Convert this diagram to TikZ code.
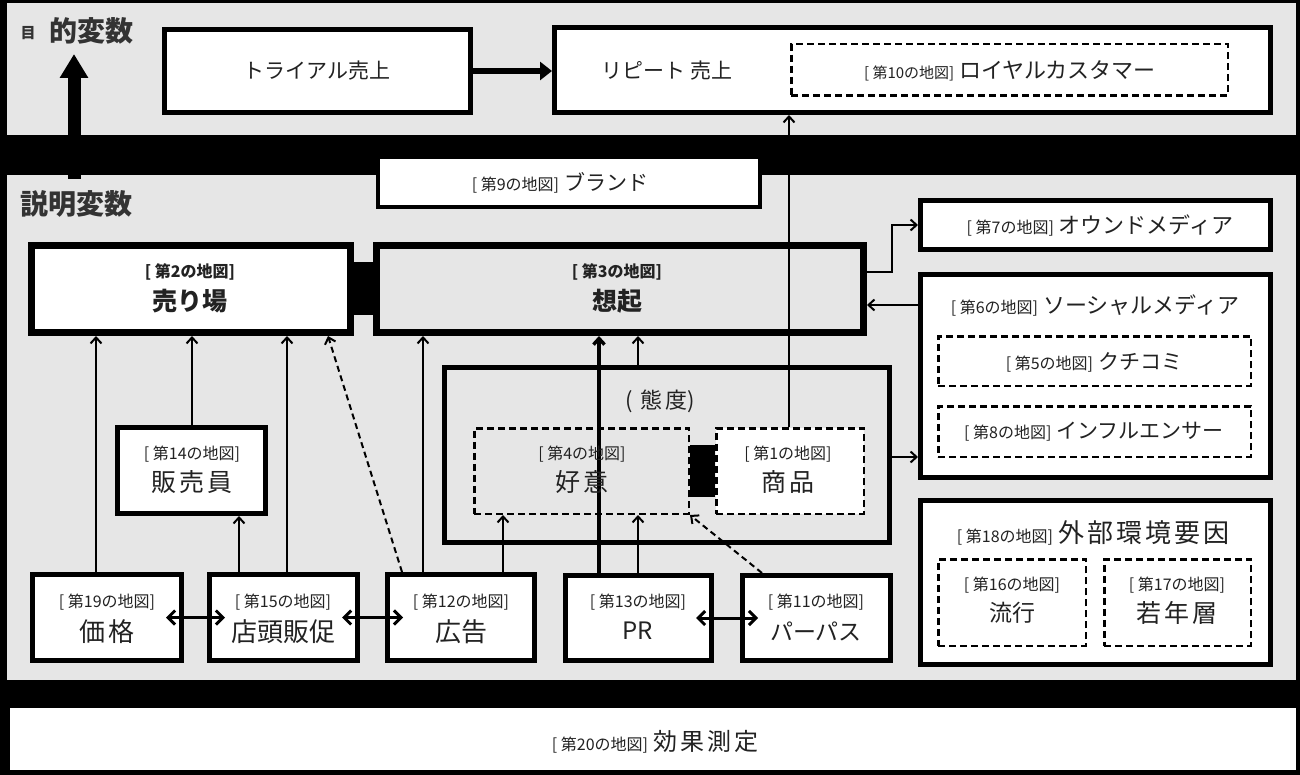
\documentclass[tikz,border=0pt]{standalone}
\usepackage{fontspec}
\setmainfont{Noto Sans CJK JP}
\usetikzlibrary{arrows.meta,calc}
\definecolor{panel}{HTML}{E6E6E6}
\definecolor{ink}{HTML}{222222}
\definecolor{ttlink}{HTML}{333333}
\newcommand\fs[1]{\fontsize{#1}{#1}\selectfont}
\newcommand\gap{\hspace{3pt}}
\newcommand\mybox[7][]{%
  \pgfmathsetmacro\bxw{#5-#3-#7}%
  \pgfmathsetmacro\bxh{#6-#4-#7}%
  \pgfmathsetmacro\bxx{(#3+#5)/2}%
  \pgfmathsetmacro\bxy{(#4+#6)/2}%
  \pgfmathsetmacro\bxo{#7/2}%
  \node[#1, line width=#7pt, minimum width=\bxw pt, minimum height=\bxh pt,
        inner sep=0pt, outer sep=\bxo pt] (#2) at (\bxx,\bxy) {};}
\begin{document}
\begin{tikzpicture}[x=1pt,y=-1pt,
  bx/.style={draw=black, fill=white},
  gbx/.style={draw=black, fill=panel},
  dbx/.style={draw=black, fill=white, dash pattern=on 7pt off 4pt},
  dgbx/.style={draw=black, fill=panel, dash pattern=on 7pt off 4pt},
  txt/.style={inner sep=0pt, text=ink, font=\fs{22}},
  lbl/.style={inner sep=0pt, text=ink, font=\fs{16}},
  main/.style={inner sep=0pt, text=ink, font=\fs{25}},
  ttl/.style={inner sep=0pt, text=ttlink, font=\bfseries\fs{28}},
  arr/.style={line width=2pt, -{Straight Barb[length=6pt,width=11pt]}},
  darr/.style={arr, dash pattern=on 6pt off 4pt},
  dbl/.style={line width=3pt, {Straight Barb[length=7pt,width=14pt]}-{Straight Barb[length=7pt,width=14pt]},
              shorten <=-18pt, shorten >=-18pt},
]
\useasboundingbox (0,0) rectangle (1300,775);
% panels
\fill[black] (0,0) rectangle (1300,775);
\fill[panel] (7,3) rectangle (1296,135);
\fill[panel] (7,175) rectangle (1296,680);
\mybox[fill=white]{kouka}{10}{708}{1296}{770}{0}

% titles
\node[ttl, font=\bfseries\fs{15}] (tMoku) at (28,33) {目};
\node[ttl] (tTeki) at (91,31) {的変数};
\node[ttl] (tSetsu) at (76,204) {説明変数};

% big up arrow
\coordinate (upS) at (74,179);
\coordinate (upE) at (74,54);
\draw[line width=13pt, -{Triangle[length=24pt,width=27pt]}] (upS) -- (upE);

% top boxes
\mybox[bx]{trial}{162}{27}{473}{115}{5}
\mybox[bx]{repeat}{552}{25}{1273}{115}{5}
\mybox[dbx]{loyal}{790}{43}{1229}{97}{2.5}
\mybox[bx]{brand}{376}{155}{762}{209}{4}

% middle boxes
\mybox[bx]{uriba}{28}{242}{354}{336}{7}
\mybox[gbx]{souki}{373}{242}{867}{336}{7}
\mybox[gbx]{taido}{442}{365}{892}{545}{5}
\mybox[dgbx]{koui}{473}{427}{690}{515}{2.5}
\mybox[dbx]{shohin}{715}{427}{865}{515}{2.5}
\mybox[bx]{hanbai}{115}{425}{268}{516}{5}

% right column
\mybox[bx]{owned}{918}{198}{1273}{252}{5}
\mybox[bx]{social}{918}{272}{1273}{480}{5}
\mybox[dbx]{kuchi}{937}{335}{1252}{387}{2.5}
\mybox[dbx]{infl}{937}{405}{1252}{458}{2.5}
\mybox[bx]{gaibu}{918}{498}{1273}{667}{5}
\mybox[dbx]{ryuko}{937}{558}{1087}{647}{2.5}
\mybox[dbx]{jakunen}{1103}{558}{1252}{647}{2.5}

% bottom row
\mybox[bx]{kakaku}{30}{572}{184}{663}{5}
\mybox[bx]{tento}{207}{572}{360}{663}{5}
\mybox[bx]{koukoku}{385}{572}{537}{663}{5}
\mybox[bx]{pr}{563}{573}{714}{663}{5}
\mybox[bx]{purpose}{740}{573}{893}{663}{5}

% black junction blocks
\draw[line width=53pt] (uriba) -- (souki);
\draw[line width=52pt] (koui) -- (shohin);

% helper x / y positions
\foreach \xx in {96,192,239,287,328,402,423,503,599,638,762,789}
  \coordinate (x\xx) at (\xx,0);
\foreach \yy in {272,305,457}
  \coordinate (y\yy) at (0,\yy);

% connectors
\draw[line width=6pt, -{Triangle[length=12pt,width=18pt]}] (trial.east) -- (trial.east -| repeat.west);
\draw[arr] (kakaku.north -| x96) -- (uriba.south -| x96);
\draw[arr] (hanbai.north -| x192) -- (uriba.south -| x192);
\draw[arr] (tento.north -| x239) -- (hanbai.south -| x239);
\draw[arr] (tento.north -| x287) -- (uriba.south -| x287);
\draw[darr] (koukoku.north -| x402) -- (uriba.south -| x328);
\draw[arr] (koukoku.north -| x423) -- (souki.south -| x423);
\draw[arr] (koukoku.north -| x503) -- (koui.south -| x503);
\draw[arr, line width=3.5pt] (pr.north -| x599) -- (souki.south -| x599);
\draw[arr] (pr.north -| x638) -- (koui.south -| x638);
\draw[arr] (taido.north -| x638) -- (souki.south -| x638);
\draw[darr] (purpose.north -| x762) -- (koui.south east);
\draw[arr] (shohin.north -| x789) -- (repeat.south -| x789);
\draw[arr] (souki.east |- y272) -- ++(25,0) |- (owned.west);
\draw[arr] (social.west |- y305) -- (souki.east |- y305);
\draw[arr] (taido.east |- y457) -- (social.west |- y457);
\draw[dbl] (kakaku) -- (tento);
\draw[dbl] (tento) -- (koukoku);
\draw[dbl] (pr) -- (purpose);

% texts
\node[txt, font=\fs{21}] (tTrial) at (317,71) {トライアル売上};
\node[txt, font=\fs{21}] (tRepeat) at (667,71) {リピート\hspace{5pt}売上};
\node[txt] (tLoyal) at (1010,71) {{\fs{15}[ 第10の地図]}\hspace{5pt}ロイヤルカスタマー};
\node[txt, font=\fs{21}] (tBrand) at (560,183) {{\fs{16}[ 第9の地図]}\hspace{5pt}ブランド};

\node[lbl, font=\bfseries\fs{16}] (tUribaL) at (190,272) {[ 第2の地図]};
\node[main, font=\bfseries\fs{25}] (tUriba) at (190,301) {売り場};
\node[lbl, font=\bfseries\fs{16}] (tSoukiL) at (617,272) {[ 第3の地図]};
\node[main, font=\bfseries\fs{25}] (tSouki) at (617,301) {想起};
\node[txt] (tTaido) at (660,401) {(\hspace{8pt}態\gap 度)};
\node[lbl] (tKouiL) at (582,454) {[ 第4の地図]};
\node[main] (tKoui) at (582,482) {好\gap 意};
\node[lbl] (tShohinL) at (788,454) {[ 第1の地図]};
\node[main] (tShohin) at (788,482) {商\gap 品};
\node[lbl] (tHanbaiL) at (192,454) {[ 第14の地図]};
\node[main] (tHanbai) at (192,482) {販\gap 売\gap 員};

\node[txt] (tOwned) at (1100,225) {{\fs{16}[ 第7の地図]}\hspace{5pt}オウンドメディア};
\node[txt] (tSocial) at (1095,305) {{\fs{16}[ 第6の地図]}\hspace{5pt}ソーシャルメディア};
\node[txt, font=\fs{21}] (tKuchi) at (1094,362) {{\fs{16}[ 第5の地図]}\hspace{5pt}クチコミ};
\node[txt, font=\fs{21}] (tInfl) at (1094,432) {{\fs{16}[ 第8の地図]}\hspace{5pt}インフルエンサー};
\node[txt, font=\fs{26}] (tGaibu) at (1093,533) {{\fs{16}[ 第18の地図]}\hspace{5pt}外\gap 部\gap 環\gap 境\gap 要\gap 因};
\node[lbl] (tRyukoL) at (1012,585) {[ 第16の地図]};
\node[main, font=\fs{23}] (tRyuko) at (1012,613) {流行};
\node[lbl] (tJakuL) at (1177,585) {[ 第17の地図]};
\node[main] (tJaku) at (1177,613) {若\gap 年\gap 層};

\node[lbl] (tKakakuL) at (107,602) {[ 第19の地図]};
\node[main, font=\fs{26}] (tKakaku) at (107,632) {価\gap 格};
\node[lbl] (tTentoL) at (283,602) {[ 第15の地図]};
\node[main, font=\fs{26}] (tTento) at (283,632) {店頭販促};
\node[lbl] (tKoukokuL) at (461,602) {[ 第12の地図]};
\node[main, font=\fs{26}] (tKoukoku) at (461,632) {広告};
\node[lbl] (tPrL) at (638,602) {[ 第13の地図]};
\node[main, font=\fs{24}] (tPr) at (638,631) {PR};
\node[lbl] (tPurposeL) at (816,602) {[ 第11の地図]};
\node[main, font=\fs{23}] (tPurpose) at (816,631) {パーパス};

\node[txt, font=\fs{24}] (tKouka) at (655,742) {{\fs{16}[ 第20の地図]}\hspace{5pt}効\gap 果\gap 測\gap 定};
\end{tikzpicture}
\end{document}
